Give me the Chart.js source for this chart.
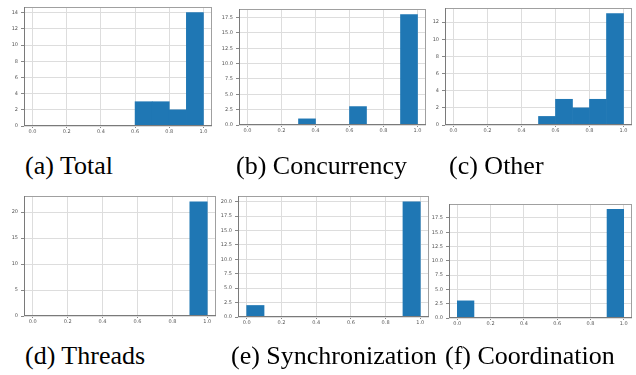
<!DOCTYPE html>
<html>
<head>
<meta charset="utf-8">
<script src="https://cdn.jsdelivr.net/npm/chart.js@4.4.1/dist/chart.umd.min.js"></script>
<style>
  html, body { margin: 0; padding: 0; background: #fff; }
  body { position: relative; width: 636px; height: 375px; overflow: hidden; }
  canvas { position: absolute; }
  .cap {
    position: absolute;
    font-family: 'Liberation Serif', 'Times New Roman', serif;
    font-size: 26px;
    line-height: 1;
    color: #000;
    white-space: nowrap;
  }
</style>
</head>
<body>
<script>
// Histogram bins: ten equal-width bins over [0, 1]
const binCenters = [0.05, 0.15, 0.25, 0.35, 0.45, 0.55, 0.65, 0.75, 0.85, 0.95];
const xTickValues = [0.0, 0.2, 0.4, 0.6, 0.8, 1.0];

// Counts per bin for each subset
const totalCounts       = [0, 0, 0, 0, 0, 0, 3, 3, 2, 14];
const concurrencyCounts = [0, 0, 0, 1, 0, 0, 3, 0, 0, 18];
const otherCounts       = [0, 0, 0, 0, 0, 1, 3, 2, 3, 13];
const threadsCounts     = [0, 0, 0, 0, 0, 0, 0, 0, 0, 22];
const syncCounts        = [2, 0, 0, 0, 0, 0, 0, 0, 0, 20];
const coordCounts       = [3, 0, 0, 0, 0, 0, 0, 0, 0, 19];

// y-axis tick values for each subplot
const totalYTicks       = [0, 2, 4, 6, 8, 10, 12, 14];
const concurrencyYTicks = [0, 2.5, 5, 7.5, 10, 12.5, 15, 17.5];
const otherYTicks       = [0, 2, 4, 6, 8, 10, 12];
const threadsYTicks     = [0, 5, 10, 15, 20];
const syncYTicks        = [0, 2.5, 5, 7.5, 10, 12.5, 15, 17.5, 20];
const coordYTicks       = [0, 2.5, 5, 7.5, 10, 12.5, 15, 17.5];

// Subplot captions
const captions = ['(a) Total', '(b) Concurrency', '(c) Other',
                  '(d) Threads', '(e) Synchronization', '(f) Coordination'];

// Layout: plot frame [left, top, right, bottom] and caption anchor [x, baseline]
const layout = [
  { counts: totalCounts,       ticks: totalYTicks,       dec: 0, frame: [24, 7, 212, 126],   cap: [25, 175] },
  { counts: concurrencyCounts, ticks: concurrencyYTicks, dec: 1, frame: [239, 9, 426, 125],  cap: [236, 175] },
  { counts: otherCounts,       ticks: otherYTicks,       dec: 0, frame: [445, 8, 632, 125],  cap: [449, 175] },
  { counts: threadsCounts,     ticks: threadsYTicks,     dec: 0, frame: [24, 196, 216, 316], cap: [25, 365] },
  { counts: syncCounts,        ticks: syncYTicks,        dec: 1, frame: [238, 196, 429, 317], cap: [231, 365] },
  { counts: coordCounts,       ticks: coordYTicks,       dec: 1, frame: [449, 204, 632, 318], cap: [445, 365] }
];

const Y_AXIS_W = 26, X_AXIS_H = 14, PAD_TOP = 6, PAD_RIGHT = 8;

// Axes frame drawn around the plotting area on top of the bars
const framePlugin = {
  id: 'frame',
  afterDatasetsDraw(chart) {
    const { ctx, chartArea: a } = chart;
    ctx.save();
    ctx.lineWidth = 1;
    ctx.strokeStyle = '#a0a0a0';
    ctx.beginPath();
    ctx.moveTo(a.left, a.top + 0.5); ctx.lineTo(a.right, a.top + 0.5);
    ctx.moveTo(a.right - 0.5, a.top); ctx.lineTo(a.right - 0.5, a.bottom);
    ctx.stroke();
    ctx.strokeStyle = '#7a7a7a';
    ctx.beginPath();
    ctx.moveTo(a.left + 0.5, a.top); ctx.lineTo(a.left + 0.5, a.bottom);
    ctx.moveTo(a.left, a.bottom - 0.5); ctx.lineTo(a.right, a.bottom - 0.5);
    ctx.stroke();
    ctx.restore();
  }
};

const tickFont = { family: 'DejaVu Sans', size: 5 };

layout.forEach((p, i) => {
  const [L, T, R, B] = p.frame;
  const cv = document.createElement('canvas');
  const w = R - L + Y_AXIS_W + PAD_RIGHT;
  const h = B - T + PAD_TOP + X_AXIS_H;
  cv.width = w; cv.height = h;
  cv.style.left = (L - Y_AXIS_W) + 'px';
  cv.style.top = (T - PAD_TOP) + 'px';
  cv.style.width = w + 'px'; cv.style.height = h + 'px';
  document.body.appendChild(cv);

  const maxCount = Math.max(...p.counts);
  new Chart(cv, {
    type: 'bar',
    data: {
      datasets: [{
        data: binCenters.map((c, k) => ({ x: c, y: p.counts[k] })),
        backgroundColor: '#1f77b4',
        borderWidth: 0,
        barPercentage: 1,
        categoryPercentage: 1,
        grouped: false
      }]
    },
    options: {
      responsive: false,
      animation: false,
      devicePixelRatio: 1,
      layout: { padding: { top: PAD_TOP, right: PAD_RIGHT, left: 0, bottom: 0 } },
      plugins: { legend: { display: false }, tooltip: { enabled: false } },
      scales: {
        x: {
          type: 'linear',
          min: -0.05, max: 1.05,
          offset: false,
          afterBuildTicks: s => { s.ticks = xTickValues.map(v => ({ value: v })); },
          afterFit: s => { s.height = X_AXIS_H; },
          border: { display: false },
          grid: { color: '#dddddd', lineWidth: 1, offset: false, tickLength: 2, tickColor: '#888' },
          ticks: { font: tickFont, color: '#555', padding: 1, maxRotation: 0, autoSkip: false,
                   callback: v => Number(v).toFixed(1) }
        },
        y: {
          min: 0, max: maxCount * 1.05,
          afterBuildTicks: s => { s.ticks = p.ticks.map(v => ({ value: v })); },
          afterFit: s => { s.width = Y_AXIS_W; },
          border: { display: false },
          grid: { color: '#dddddd', lineWidth: 1, tickLength: 3, tickColor: '#888' },
          ticks: { font: tickFont, color: '#555', padding: 3, autoSkip: false,
                   callback: v => Number(v).toFixed(p.dec) }
        }
      }
    },
    plugins: [framePlugin]
  });

  const cap = document.createElement('div');
  cap.className = 'cap';
  cap.textContent = captions[i];
  cap.style.left = p.cap[0] + 'px';
  cap.style.top = (p.cap[1] - 21.8) + 'px';
  document.body.appendChild(cap);
});
</script>
</body>
</html>
